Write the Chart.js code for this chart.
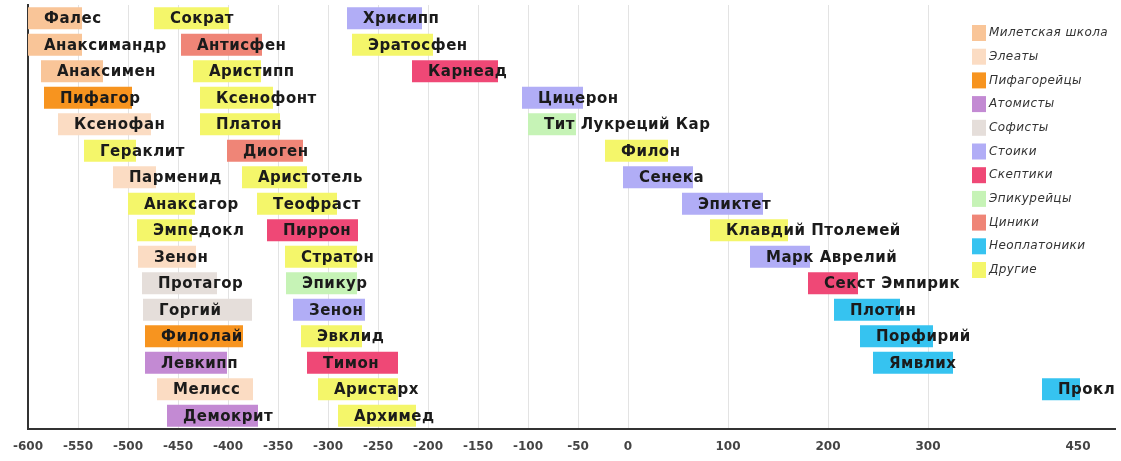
<!DOCTYPE html>
<html>
<head>
<meta charset="utf-8">
<script src="https://cdn.jsdelivr.net/npm/chart.js@4.4.1/dist/chart.umd.min.js"></script>
<style>
body { margin: 0; background: #fff; }
#wrap { width: 1121px; height: 461px; }
</style>
</head>
<body>
<div id="wrap"><canvas id="chart"></canvas></div>
<script>
let rows = ['1', '2', '3', '4', '5', '6', '7', '8', '9', '10', '11', '12', '13', '14', '15', '16']

// early column
let col1Names = ['Фалес', 'Анаксимандр', 'Анаксимен', 'Пифагор', 'Ксенофан', 'Гераклит', 'Парменид', 'Анаксагор',
    'Эмпедокл', 'Зенон', 'Протагор', 'Горгий', 'Филолай', 'Левкипп', 'Мелисс', 'Демокрит']
let col1Spans = [[-600, -546], [-600, -546], [-587, -525], [-584, -496], [-570, -477], [-544, -492], [-515, -472], [-500, -433],
    [-491, -436], [-490, -432], [-486, -411], [-485, -376], [-483, -385], [-483, -401], [-471, -375], [-461, -370]]
let col1Schools = ['Милетская школа', 'Милетская школа', 'Милетская школа', 'Пифагорейцы', 'Элеаты', 'Другие', 'Элеаты', 'Другие',
    'Другие', 'Элеаты', 'Софисты', 'Софисты', 'Пифагорейцы', 'Атомисты', 'Элеаты', 'Атомисты']

// classical column
let col2Names = ['Сократ', 'Антисфен', 'Аристипп', 'Ксенофонт', 'Платон', 'Диоген', 'Аристотель', 'Теофраст',
    'Пиррон', 'Стратон', 'Эпикур', 'Зенон', 'Эвклид', 'Тимон', 'Аристарх', 'Архимед']
let col2Spans = [[-474, -399], [-447, -366], [-435, -367], [-428, -355], [-428, -348], [-401, -325], [-386, -321], [-371, -291],
    [-361, -270], [-343, -271], [-342, -271], [-335, -263], [-327, -266], [-321, -230], [-310, -230], [-290, -212]]
let col2Schools = ['Другие', 'Циники', 'Другие', 'Другие', 'Другие', 'Циники', 'Другие', 'Другие',
    'Скептики', 'Другие', 'Эпикурейцы', 'Стоики', 'Другие', 'Скептики', 'Другие', 'Другие']

// late column
let col3Names = ['Хрисипп', 'Эратосфен', 'Карнеад', 'Цицерон', 'Тит Лукреций Кар', 'Филон', 'Сенека', 'Эпиктет',
    'Клавдий Птолемей', 'Марк Аврелий', 'Секст Эмпирик', 'Плотин', 'Порфирий', 'Ямвлих', 'Прокл', '']
let col3Spans = [[-281, -206], [-276, -195], [-216, -130], [-106, -45], [-100, -52], [-23, 40], [-5, 65], [54, 135],
    [82, 160], [122, 182], [180, 230], [206, 272], [232, 305], [245, 325], [414, 452], null]
let col3Schools = ['Стоики', 'Другие', 'Скептики', 'Стоики', 'Эпикурейцы', 'Другие', 'Стоики', 'Стоики',
    'Другие', 'Стоики', 'Скептики', 'Неоплатоники', 'Неоплатоники', 'Неоплатоники', 'Неоплатоники', 'Другие']

let schools = ['Милетская школа', 'Элеаты', 'Пифагорейцы', 'Атомисты', 'Софисты', 'Стоики', 'Скептики',
    'Эпикурейцы', 'Циники', 'Неоплатоники', 'Другие']
let schoolColors = ['#f9c598', '#fbdcc3', '#f7941f', '#c38ad3', '#e5deda', '#b1adf6', '#ef4876',
    '#c6f3b6', '#ef8577', '#36c3f0', '#f4f66a']

let xTicks = [-600, -550, -500, -450, -400, -350, -300, -250, -200, -150, -100, -50, 0, 100, 200, 300, 450]

let colorOf = s => schoolColors[schools.indexOf(s)]

function column(names, spans, sch) {
    return {
        data: spans,
        names: names,
        backgroundColor: sch.map(colorOf),
        borderWidth: 0,
        grouped: false,
        barPercentage: 0.83,
        categoryPercentage: 1
    }
}

const barLabels = {
    id: 'barLabels',
    afterDatasetsDraw(chart) {
        const ctx = chart.ctx
        ctx.save()
        ctx.font = 'bold 15px "DejaVu Sans"'
        ctx.letterSpacing = '0.5px'
        ctx.fillStyle = '#1b1b1b'
        ctx.textBaseline = 'middle'
        chart.data.datasets.forEach((ds, i) => {
            chart.getDatasetMeta(i).data.forEach((bar, j) => {
                if (!ds.data[j]) return
                let left = Math.min(bar.x, bar.base)
                ctx.fillText(ds.names[j], left + 16, bar.y + 1)
            })
        })
        ctx.restore()
    }
}

const schoolLegend = {
    id: 'schoolLegend',
    afterDraw(chart) {
        const ctx = chart.ctx
        ctx.save()
        ctx.font = 'italic 12px "DejaVu Sans"'
        ctx.letterSpacing = '0.4px'
        ctx.textBaseline = 'middle'
        schools.forEach((s, i) => {
            let y = 33 + i * 23.7
            ctx.fillStyle = schoolColors[i]
            ctx.fillRect(972, y - 8, 14, 16)
            ctx.fillStyle = '#333'
            ctx.fillText(s, 989, y)
        })
        ctx.restore()
    }
}

new Chart(document.getElementById('chart'), {
    type: 'bar',
    data: {
        labels: rows,
        datasets: [
            column(col1Names, col1Spans, col1Schools),
            column(col2Names, col2Spans, col2Schools),
            column(col3Names, col3Spans, col3Schools)
        ]
    },
    options: {
        indexAxis: 'y',
        responsive: true,
        maintainAspectRatio: false,
        animation: false,
        events: [],
        layout: {
            padding: { left: 20, right: 6, top: 5, bottom: -4 }
        },
        scales: {
            x: {
                type: 'linear',
                min: -600,
                max: 487,
                afterBuildTicks: scale => {
                    scale.ticks = xTicks.map(v => ({ value: v }))
                },
                ticks: {
                    color: '#444',
                    padding: 12,
                    font: { family: 'DejaVu Sans', size: 12, weight: 'bold', lineHeight: 1 }
                },
                grid: {
                    drawTicks: false,
                    color: c => (c.tick && c.tick.value === 450) ? 'rgba(0,0,0,0)' : '#e3e3e3'
                },
                border: { color: '#333', width: 2 }
            },
            y: {
                ticks: { display: false },
                grid: { display: false },
                border: { color: '#333', width: 2 }
            }
        },
        plugins: {
            legend: { display: false },
            tooltip: { enabled: false }
        }
    },
    plugins: [barLabels, schoolLegend]
});
</script>
</body>
</html>
